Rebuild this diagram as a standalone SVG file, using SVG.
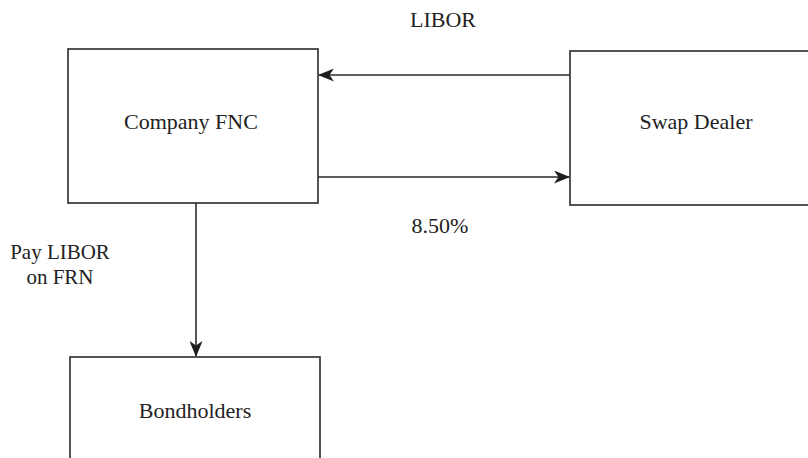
<svg xmlns="http://www.w3.org/2000/svg" width="808" height="458" viewBox="0 0 808 458">
  <style>
    .box { fill: #ffffff; stroke: #2a2a2a; stroke-width: 1.6; }
    .link { fill: none; stroke: #2a2a2a; stroke-width: 1.6; }
    .lbl { font-family: "Liberation Serif", "Times New Roman", serif; font-size: 22px; fill: #222222; text-anchor: middle; }
    .small { font-size: 21px; }
  </style>
  <defs>
    <marker id="arrow" viewBox="0 0 16 13" refX="15" refY="6.5" markerWidth="16" markerHeight="13" markerUnits="userSpaceOnUse" orient="auto">
      <path d="M0,0 L16,6.5 L0,13 L4.5,6.5 Z" fill="#1e1e1e"/>
    </marker>
  </defs>
  <rect width="808" height="458" fill="#ffffff"/>

  <g id="company-fnc">
    <rect class="box" x="68" y="49" width="250" height="154"/>
    <text class="lbl" x="191" y="129">Company FNC</text>
  </g>

  <g id="swap-dealer">
    <rect class="box" x="570" y="51" width="300" height="154"/>
    <text class="lbl" x="696" y="129">Swap Dealer</text>
  </g>

  <g id="bondholders">
    <rect class="box" x="70" y="357" width="250" height="140"/>
    <text class="lbl" x="195" y="418">Bondholders</text>
  </g>

  <g id="connectors">
    <line class="link" x1="570" y1="75" x2="319" y2="75" marker-end="url(#arrow)"/>
    <line class="link" x1="318" y1="177" x2="569" y2="177" marker-end="url(#arrow)"/>
    <line class="link" x1="196" y1="203" x2="196" y2="356" marker-end="url(#arrow)"/>
    <text class="lbl" x="443" y="27">LIBOR</text>
    <text class="lbl" x="440" y="233">8.50%</text>
    <text class="lbl small" x="60" y="259">Pay LIBOR</text>
    <text class="lbl small" x="60" y="284">on FRN</text>
  </g>
</svg>
